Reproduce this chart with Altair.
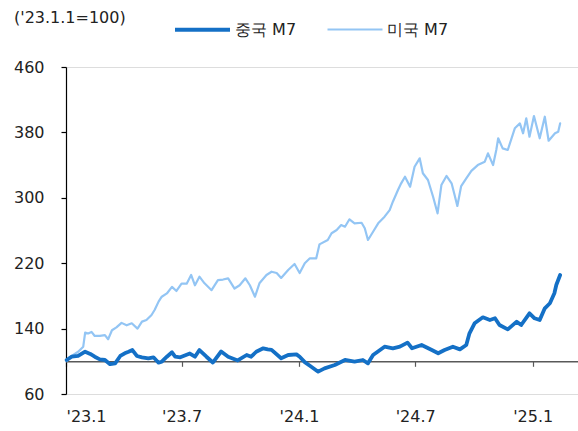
import altair as alt
import pandas as pd

# ---- data ('23.1.1 = 100) ----
us_dates = [
    "2023-01-02", "2023-01-10", "2023-01-20", "2023-01-28", "2023-01-31", "2023-02-05",
    "2023-02-10", "2023-02-15", "2023-02-23", "2023-03-03", "2023-03-08", "2023-03-14",
    "2023-03-21", "2023-03-29", "2023-04-06", "2023-04-14", "2023-04-23", "2023-04-30",
    "2023-05-07", "2023-05-15", "2023-05-20", "2023-05-26", "2023-05-31", "2023-06-08",
    "2023-06-16", "2023-06-23", "2023-07-01", "2023-07-09", "2023-07-16", "2023-07-22",
    "2023-07-29", "2023-08-06", "2023-08-17", "2023-08-27", "2023-09-04", "2023-09-12",
    "2023-09-22", "2023-09-30", "2023-10-09", "2023-10-16", "2023-10-24", "2023-10-31",
    "2023-11-11", "2023-11-19", "2023-11-27", "2023-12-04", "2023-12-15", "2023-12-25",
    "2024-01-02", "2024-01-10", "2024-01-18", "2024-01-28", "2024-02-02", "2024-02-15",
    "2024-02-21", "2024-02-29", "2024-03-07", "2024-03-13", "2024-03-20", "2024-03-28",
    "2024-04-08", "2024-04-13", "2024-04-18", "2024-04-26", "2024-05-04", "2024-05-14",
    "2024-05-22", "2024-05-27", "2024-06-04", "2024-06-09", "2024-06-15", "2024-06-23",
    "2024-06-30", "2024-07-08", "2024-07-13", "2024-07-21", "2024-07-29", "2024-08-05",
    "2024-08-11", "2024-08-19", "2024-08-27", "2024-08-31", "2024-09-05", "2024-09-11",
    "2024-09-19", "2024-09-27", "2024-10-07", "2024-10-18", "2024-10-23", "2024-10-31",
    "2024-11-05", "2024-11-08", "2024-11-15", "2024-11-23", "2024-12-04", "2024-12-12",
    "2024-12-17", "2024-12-22", "2024-12-27", "2025-01-03", "2025-01-12", "2025-01-20",
    "2025-01-26", "2025-02-05", "2025-02-10", "2025-02-13",
]
us_values = [
    100, 106.5, 111.7, 117.9, 135, 134,
    136, 131, 131, 132, 127, 138,
    141.5, 147, 144, 146.5, 140, 148.5,
    150.5, 156.6, 163, 173, 179, 183,
    191, 186, 195, 195, 205.6, 193,
    203.5, 195.4, 187, 199.4, 200, 201.5,
    189, 193, 201.5, 193, 179, 195.4,
    205.6, 209.6, 208, 202, 211.7, 219,
    208, 220, 226, 226, 243, 248.4,
    256.6, 260.6, 266.7, 264.6, 273.7, 268.8,
    269.5, 262.7, 248.4, 258.5, 268.8, 276.9,
    285, 295.2, 309.5, 317.7, 325.8, 313.6,
    338, 348.3, 330, 321.8, 301.3, 281,
    315.6, 326.7, 317.7, 305.5, 290, 314.4,
    323.8, 333, 340, 344.2, 354.4, 340,
    358.5, 372.8, 360.5, 358.5, 385, 391,
    378.9, 397.2, 374.7, 400, 372.8, 399.2,
    369.8, 378.9, 380.8, 391,
]

cn_dates = [
    "2023-01-02", "2023-01-10", "2023-01-20", "2023-01-31", "2023-02-08", "2023-02-15",
    "2023-02-23", "2023-03-03", "2023-03-11", "2023-03-19", "2023-03-27", "2023-04-03",
    "2023-04-09", "2023-04-15", "2023-04-22", "2023-04-30", "2023-05-10", "2023-05-18",
    "2023-05-26", "2023-05-31", "2023-06-08", "2023-06-16", "2023-06-21", "2023-06-29",
    "2023-07-06", "2023-07-14", "2023-07-22", "2023-07-29", "2023-08-09", "2023-08-19",
    "2023-09-01", "2023-09-12", "2023-09-27", "2023-10-11", "2023-10-18", "2023-10-26",
    "2023-11-06", "2023-11-13", "2023-11-19", "2023-12-04", "2023-12-15", "2023-12-28",
    "2024-01-02", "2024-01-10", "2024-01-18", "2024-01-31", "2024-02-10", "2024-02-26",
    "2024-03-13", "2024-03-28", "2024-04-10", "2024-04-18", "2024-04-26", "2024-05-14",
    "2024-05-27", "2024-06-07", "2024-06-19", "2024-06-26", "2024-07-11", "2024-07-27",
    "2024-08-06", "2024-08-16", "2024-08-29", "2024-09-09", "2024-09-19", "2024-09-24",
    "2024-10-02", "2024-10-15", "2024-10-26", "2024-11-03", "2024-11-10", "2024-11-23",
    "2024-12-07", "2024-12-14", "2024-12-27", "2025-01-04", "2025-01-12", "2025-01-20",
    "2025-01-28", "2025-02-04", "2025-02-07", "2025-02-13",
]
cn_values = [
    101.6, 105.6, 106.5, 111.7, 109, 105.6,
    102.4, 101.6, 96.5, 97.5, 106.5, 109.8,
    111.7, 113.8, 106.5, 104.9, 103.7, 104.9,
    98.3, 99.5, 105.6, 111, 105.6, 104.9,
    107, 109.5, 105.6, 113.8, 105.6, 98.5,
    112, 105.6, 101, 107.7, 105.6, 111.7,
    115.9, 114.6, 114, 103.7, 107.7, 108.5,
    105.6, 99, 94.5, 87.3, 91.4, 95.5,
    101.6, 99.5, 101.6, 97.5, 107.7, 117.9,
    115.9, 117.9, 122.8, 115.9, 120, 113.8,
    109.8, 113.8, 117.9, 114.6, 120, 134.2,
    146.5, 153.8, 150.5, 152.6, 144.4, 139.1,
    148.5, 144.4, 158.7, 152.6, 150.5, 164.8,
    171, 183.2, 193.3, 205.6,
]

series_names = ["중국 M7", "미국 M7"]
series_colors = ["#1470C6", "#93C5F4"]
series_widths = [3.8, 2.2]
y_ticks = [60, 140, 220, 300, 380, 460]
unit_note = "('23.1.1=100)"

FONT = "DejaVu Sans"
TEXT_COLOR = "#222222"
FS = 16

df = pd.concat([
    pd.DataFrame({"date": cn_dates, "value": cn_values, "series": series_names[0]}),
    pd.DataFrame({"date": us_dates, "value": us_values, "series": series_names[1]}),
], ignore_index=True)

x_enc = alt.X(
    "date:T",
    scale=alt.Scale(type="utc", domain=[alt.DateTime(year=2023, month=1, date=1, utc=True),
                                        alt.DateTime(year=2025, month=3, date=13, utc=True)]),
    axis=alt.Axis(
        title=None,
        values=[alt.DateTime(year=2023, month=1, date=1, utc=True),
                alt.DateTime(year=2023, month=7, date=1, utc=True),
                alt.DateTime(year=2024, month=1, date=1, utc=True),
                alt.DateTime(year=2024, month=7, date=1, utc=True),
                alt.DateTime(year=2025, month=1, date=1, utc=True)],
        labelExpr="\"'\" + utcFormat(datum.value, '%y') + '.' + (utcmonth(datum.value) + 1)",
        offset=-32.7,
        domainColor="#595959", domainWidth=1.5,
        tickColor="#595959", tickSize=5, tickWidth=1.2,
        labelPadding=42, labelFontSize=FS, labelColor=TEXT_COLOR, labelFont=FONT,
        grid=False,
    ),
)
y_enc = alt.Y(
    "value:Q",
    scale=alt.Scale(domain=[60, 460], nice=False, zero=False),
    axis=alt.Axis(
        title=None, values=y_ticks, grid=False,
        domainColor="#000000", domainWidth=1.2,
        tickColor="#000000", tickSize=5, tickWidth=1.2,
        labelPadding=17, labelFontSize=FS, labelColor=TEXT_COLOR, labelFont=FONT,
    ),
)
legend_cfg = dict(
    title=None, orient="none", direction="horizontal",
    legendX=107, legendY=-67,
    symbolType="stroke", symbolSize=3025,
    labelFontSize=FS, labelColor=TEXT_COLOR, labelFont=FONT,
    labelOffset=3, columnPadding=26,
)
color_enc = alt.Color(
    "series:N",
    scale=alt.Scale(domain=series_names, range=series_colors),
    legend=alt.Legend(**legend_cfg),
)
width_enc = alt.StrokeWidth(
    "series:N",
    scale=alt.Scale(domain=series_names, range=series_widths),
    legend=alt.Legend(**legend_cfg),
)

base = alt.Chart(df)
us_line = base.transform_filter(alt.datum.series == series_names[1]).mark_line(
    strokeJoin="round", strokeCap="round"
).encode(x=x_enc, y=y_enc, color=color_enc, strokeWidth=width_enc)
cn_line = base.transform_filter(alt.datum.series == series_names[0]).mark_line(
    strokeJoin="round", strokeCap="round"
).encode(x=x_enc, y=y_enc, color=color_enc, strokeWidth=width_enc)

note = alt.Chart(pd.DataFrame({"t": [unit_note]})).mark_text(
    align="left", baseline="middle", fontSize=FS, font=FONT, color=TEXT_COLOR
).encode(text="t:N", x=alt.value(-52), y=alt.value(-49.5))

chart = alt.layer(us_line, cn_line, note).properties(
    width=512, height=327,
    autosize=alt.AutoSizeParams(type="none"),
    padding={"left": 66, "top": 67, "right": 0, "bottom": 37},
).configure_view(stroke=None).configure(font=FONT)

chart.save("out.html", embed_options={"renderer": "svg", "actions": False})
